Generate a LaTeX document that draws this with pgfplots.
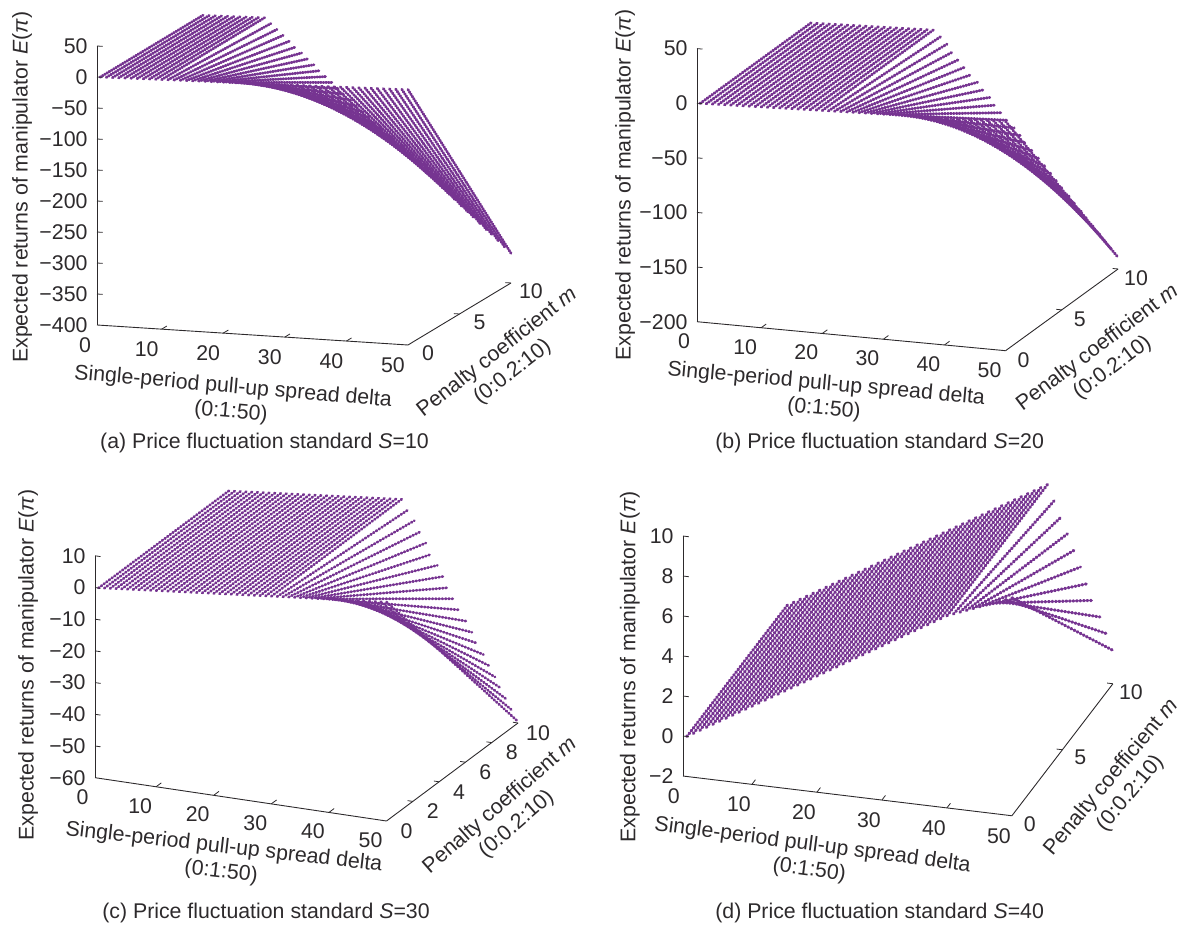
\documentclass[border=0pt]{standalone}
\usepackage{fontspec}
\setmainfont{Liberation Sans}
\usepackage{pgfplots}
\usepackage{pgfplotstable}
\pgfplotsset{compat=1.18}
\definecolor{surfc}{RGB}{118,52,145}
\definecolor{ink}{RGB}{45,42,44}
\pgfplotstableread{
d E0 E10
0 0 0
1 .24 .24
2 .48 .48
3 .72 .72
4 .96 .96
5 1.2 1.2
6 1.44 1.44
7 1.68 1.68
8 1.92 1.92
9 2.16 2.16
10 2.4 2.4
11 2.64 -6.46
12 2.88 -15.32
13 3.12 -24.18
14 3.36 -33.04
15 3.6 -41.9
16 3.84 -50.76
17 4.08 -59.62
18 4.32 -68.48
19 4.56 -77.34
20 4.8 -86.2
21 5.04 -95.06
22 5.28 -103.92
23 5.52 -112.78
24 5.76 -121.64
25 6 -130.5
26 6.24 -139.36
27 6.48 -148.22
28 6.72 -157.08
29 6.96 -165.94
30 7.2 -174.8
31 7.44 -183.66
32 7.68 -192.52
33 7.92 -201.38
34 8.16 -210.24
35 8.4 -219.1
36 8.64 -227.96
37 8.88 -236.82
38 9.12 -245.68
39 9.36 -254.54
40 9.6 -263.4
41 9.84 -272.26
42 10.08 -281.12
43 10.32 -289.98
44 10.56 -298.84
45 10.8 -307.7
46 11.04 -316.56
47 11.28 -325.42
48 11.52 -334.28
49 11.76 -343.14
50 12 -352
}\dataA
\pgfplotstableread{
d E0 E10
0 0 0
1 .2 .2
2 .4 .4
3 .6 .6
4 .8 .8
5 1 1
6 1.2 1.2
7 1.4 1.4
8 1.6 1.6
9 1.8 1.8
10 2 2
11 2.2 2.2
12 2.4 2.4
13 2.6 2.6
14 2.8 2.8
15 3 3
16 3.2 3.2
17 3.4 3.4
18 3.6 3.6
19 3.8 3.8
20 4 4
21 4.2 -2.45
22 4.4 -8.89
23 4.6 -15.34
24 4.8 -21.79
25 5 -28.24
26 5.2 -34.68
27 5.4 -41.13
28 5.6 -47.58
29 5.8 -54.02
30 6 -60.47
31 6.2 -66.92
32 6.4 -73.36
33 6.6 -79.81
34 6.8 -86.26
35 7 -92.71
36 7.2 -99.15
37 7.4 -105.6
38 7.6 -112.05
39 7.8 -118.49
40 8 -124.94
41 8.2 -131.39
42 8.4 -137.83
43 8.6 -144.28
44 8.8 -150.73
45 9 -157.18
46 9.2 -163.62
47 9.4 -170.07
48 9.6 -176.52
49 9.8 -182.96
50 10 -189.41
}\dataB
\pgfplotstableread{
d E0 E10
0 0 0
1 .18 .18
2 .36 .36
3 .55 .55
4 .73 .73
5 .91 .91
6 1.09 1.09
7 1.27 1.27
8 1.46 1.46
9 1.64 1.64
10 1.82 1.82
11 2 2
12 2.18 2.18
13 2.37 2.37
14 2.55 2.55
15 2.73 2.73
16 2.91 2.91
17 3.09 3.09
18 3.28 3.28
19 3.46 3.46
20 3.64 3.64
21 3.82 3.82
22 4 4
23 4.19 4.19
24 4.37 4.37
25 4.55 4.55
26 4.73 4.73
27 4.91 4.91
28 5.1 5.1
29 5.28 5.28
30 5.46 5.46
31 5.64 2.21
32 5.82 -1.04
33 6.01 -4.29
34 6.19 -7.54
35 6.37 -10.79
36 6.55 -14.04
37 6.73 -17.29
38 6.92 -20.54
39 7.1 -23.79
40 7.28 -27.04
41 7.46 -30.29
42 7.64 -33.54
43 7.83 -36.79
44 8.01 -40.04
45 8.19 -43.29
46 8.37 -46.54
47 8.55 -49.79
48 8.74 -53.04
49 8.92 -56.29
50 9.1 -59.54
}\dataC
\pgfplotstableread{
d E0 E10
0 0 0
1 .19 .19
2 .38 .38
3 .57 .57
4 .76 .76
5 .95 .95
6 1.14 1.14
7 1.33 1.33
8 1.52 1.52
9 1.71 1.71
10 1.9 1.9
11 2.09 2.09
12 2.28 2.28
13 2.47 2.47
14 2.66 2.66
15 2.85 2.85
16 3.04 3.04
17 3.23 3.23
18 3.42 3.42
19 3.61 3.61
20 3.8 3.8
21 3.99 3.99
22 4.18 4.18
23 4.37 4.37
24 4.56 4.56
25 4.75 4.75
26 4.94 4.94
27 5.13 5.13
28 5.32 5.32
29 5.51 5.51
30 5.7 5.7
31 5.89 5.89
32 6.08 6.08
33 6.27 6.27
34 6.46 6.46
35 6.65 6.65
36 6.84 6.84
37 7.03 7.03
38 7.22 7.22
39 7.41 7.41
40 7.6 7.6
41 7.73 6.81
42 7.86 6.01
43 7.99 5.22
44 8.12 4.43
45 8.25 3.64
46 8.38 2.84
47 8.51 2.05
48 8.64 1.26
49 8.77 .47
50 8.9 -.33
}\dataD
\newcommand{\fs}{\fontsize{21.3}{25}\selectfont}
\pgfplotsset{
  panel/.style={
    clip=false, anchor=origin, xmax=50, ymin=0, ymax=10,
    axis x line*=bottom, axis y line*=left, axis z line*=left,
    axis line style={ink,line width=0.9pt,-},
    tick style={draw=none},
    major tick length=5pt, tick align=inside,
    tick label style={font=\fs,text=ink},
    xtick={0,10,20,30,40,50}, xticklabels={0,10,20,30,40,50},
    minor tick num=0,
    zticklabel style={anchor=east,xshift=-6pt},
  },
  xl/.style n args={3}{every axis x label/.style={at={(axis cs:0,0,0)},anchor=center,font=\fs,text=ink,align=center,xshift=#1,yshift=#2,rotate=#3}},
  yl/.style n args={3}{every axis y label/.style={at={(axis cs:0,0,0)},anchor=center,font=\fs,text=ink,align=center,xshift=#1,yshift=#2,rotate=#3}},
  zl/.style 2 args={every axis z label/.style={at={(axis cs:0,0,0)},anchor=center,font=\fs,text=ink,xshift=#1,yshift=#2,rotate=90}},
  sl/.style 2 args={draw=surfc,no marks,forget plot,line cap=round,line width=#2,dash pattern=on 1pt off #1},
  tk/.style={ink,line width=0.8pt,no marks,forget plot},
}
% one straight line per delta, from m=0 to m=10, out of the table's two columns
\newcommand{\surfacelines}[3]{%
  \pgfplotsinvokeforeach{0,...,50}{%
    \pgfplotstablegetelem{##1}{E0}\of#1\let\eo\pgfplotsretval
    \pgfplotstablegetelem{##1}{E10}\of#1\let\et\pgfplotsretval
    \edef\temp{\noexpand\addplot3[sl={#2}{#3}] coordinates {(##1,0,\eo) (##1,10,\et)};}\temp
  }%
}
\begin{document}
\begin{tikzpicture}
\path[use as bounding box] (0pt,0pt) rectangle (1178pt,927pt);

% (a)
\begin{axis}[panel, at={(100.08pt,849.8pt)},
  x={(6.158pt,-0.396pt)}, y={(10.3pt,6.2pt)}, z={(0pt,0.62pt)},
  xmin=-0.5, zmin=-400, zmax=50,
  ytick={0,5,10}, yticklabels={0,5,10},
  ztick={-400,-350,-300,-250,-200,-150,-100,-50,0,50},
  zticklabels={−400,−350,−300,−250,−200,−150,−100,−50,0,50},
  xticklabel style={anchor=center,xshift=-15pt,yshift=-20pt},
  yticklabel style={anchor=center,xshift=20pt,yshift=-8pt},
  xlabel={Single-period pull-up spread delta\\(0:1:50)},
  xl={131.9pt}{-322.8pt}{-5},
  ylabel={Penalty coefficient \textit{m}\\(0:0.2:10)},
  yl={404.9pt}{-285.3pt}{38},
  zlabel={Expected returns of manipulator \textit{E}(\textit{π})},
  zl={-78pt}{-110pt},
]
\surfacelines{\dataA}{1.6pt}{2.8pt}
\pgfplotsinvokeforeach{-350,-300,-250,-200,-150,-100,-50,0,50}{\addplot3[tk] coordinates {(-0.5,0,#1) (0.4,0,#1)};}
\pgfplotsinvokeforeach{10,20,30,40}{\addplot3[tk] coordinates {(#1,0,-400) (#1,0.5,-400)};}
\pgfplotsinvokeforeach{5,10}{\addplot3[tk] coordinates {(50,#1,-400) (49.1,#1,-400)};}
\end{axis}

% (b)
\begin{axis}[panel, at={(700.05pt,823.5pt)},
  x={(6.11pt,-0.574pt)}, y={(11.25pt,8.17pt)}, z={(0pt,1.0925pt)},
  xmin=-0.5, zmin=-200, zmax=50,
  ytick={0,5,10}, yticklabels={0,5,10},
  ztick={-200,-150,-100,-50,0,50},
  zticklabels={−200,−150,−100,−50,0,50},
  xticklabel style={anchor=center,xshift=-16pt,yshift=-19pt},
  yticklabel style={anchor=center,xshift=18pt,yshift=-9pt},
  xlabel={Single-period pull-up spread delta\\(0:1:50)},
  xl={125pt}{-293.5pt}{-5.2},
  ylabel={Penalty coefficient \textit{m}\\(0:0.2:10)},
  yl={405pt}{-254.5pt}{37},
  zlabel={Expected returns of manipulator \textit{E}(\textit{π})},
  zl={-75pt}{-81.5pt},
]
\surfacelines{\dataB}{1.9pt}{2.9pt}
\pgfplotsinvokeforeach{-150,-100,-50,0,50}{\addplot3[tk] coordinates {(-0.5,0,#1) (0.4,0,#1)};}
\pgfplotsinvokeforeach{10,20,30,40}{\addplot3[tk] coordinates {(#1,0,-200) (#1,0.45,-200)};}
\pgfplotsinvokeforeach{5,10}{\addplot3[tk] coordinates {(50,#1,-200) (49.1,#1,-200)};}
\end{axis}

% (c)
\begin{axis}[panel, at={(98.5pt,339pt)},
  x={(5.76pt,-0.856pt)}, y={(13.15pt,9.8pt)}, z={(0pt,3.17pt)},
  xmin=-0.6, zmin=-60, zmax=10,
  ytick={0,2,4,6,8,10}, yticklabels={0,2,4,6,8,10},
  ztick={-60,-50,-40,-30,-20,-10,0,10},
  zticklabels={−60,−50,−40,−30,−20,−10,0,10},
  xticklabel style={anchor=center,xshift=-16pt,yshift=-19pt},
  yticklabel style={anchor=center,xshift=20pt,yshift=-10pt},
  xlabel={Single-period pull-up spread delta\\(0:1:50)},
  xl={124pt}{-272pt}{-6.5},
  ylabel={Penalty coefficient \textit{m}\\(0:0.2:10)},
  yl={410pt}{-227pt}{41},
  zlabel={Expected returns of manipulator \textit{E}(\textit{π})},
  zl={-70.5pt}{-77pt},
]
\surfacelines{\dataC}{2.3pt}{2.7pt}
\pgfplotsinvokeforeach{-50,-40,-30,-20,-10,0,10}{\addplot3[tk] coordinates {(-0.6,0,#1) (0.35,0,#1)};}
\pgfplotsinvokeforeach{10,20,30,40}{\addplot3[tk] coordinates {(#1,0,-60) (#1,0.4,-60)};}
\pgfplotsinvokeforeach{2,4,6,8,10}{\addplot3[tk] coordinates {(50,#1,-60) (49.1,#1,-60)};}
\end{axis}

% (d)
\begin{axis}[panel, at={(686.9pt,190.5pt)},
  x={(6.5pt,-0.785pt)}, y={(10.1pt,13.2pt)}, z={(0pt,20pt)},
  xmin=-0.6, zmin=-2, zmax=10,
  ytick={0,5,10}, yticklabels={0,5,10},
  ztick={-2,0,2,4,6,8,10},
  zticklabels={−2,0,2,4,6,8,10},
  xticklabel style={anchor=center,xshift=-13pt,yshift=-20pt},
  yticklabel style={anchor=center,xshift=18pt,yshift=-8pt},
  xlabel={Single-period pull-up spread delta\\(0:1:50)},
  xl={124pt}{-121.5pt}{-7.5},
  ylabel={Penalty coefficient \textit{m}\\(0:0.2:10)},
  yl={434pt}{-49pt}{50},
  zlabel={Expected returns of manipulator \textit{E}(\textit{π})},
  zl={-57pt}{69.8pt},
]
\surfacelines{\dataD}{2.5pt}{3.1pt}
\pgfplotsinvokeforeach{0,2,4,6,8,10}{\addplot3[tk] coordinates {(-0.6,0,#1) (0.3,0,#1)};}
\pgfplotsinvokeforeach{10,20,30,40}{\addplot3[tk] coordinates {(#1,0,-2) (#1,0.35,-2)};}
\pgfplotsinvokeforeach{5,10}{\addplot3[tk] coordinates {(50,#1,-2) (49.1,#1,-2)};}
\end{axis}

\node[font=\fs,text=ink] at (264.5pt,484.3pt) {(a) Price fluctuation standard \textit{S}=10};
\node[font=\fs,text=ink] at (879.6pt,484.3pt) {(b) Price fluctuation standard \textit{S}=20};
\node[font=\fs,text=ink] at (266pt,14pt) {(c) Price fluctuation standard \textit{S}=30};
\node[font=\fs,text=ink] at (879.6pt,14pt) {(d) Price fluctuation standard \textit{S}=40};
\end{tikzpicture}
\end{document}
